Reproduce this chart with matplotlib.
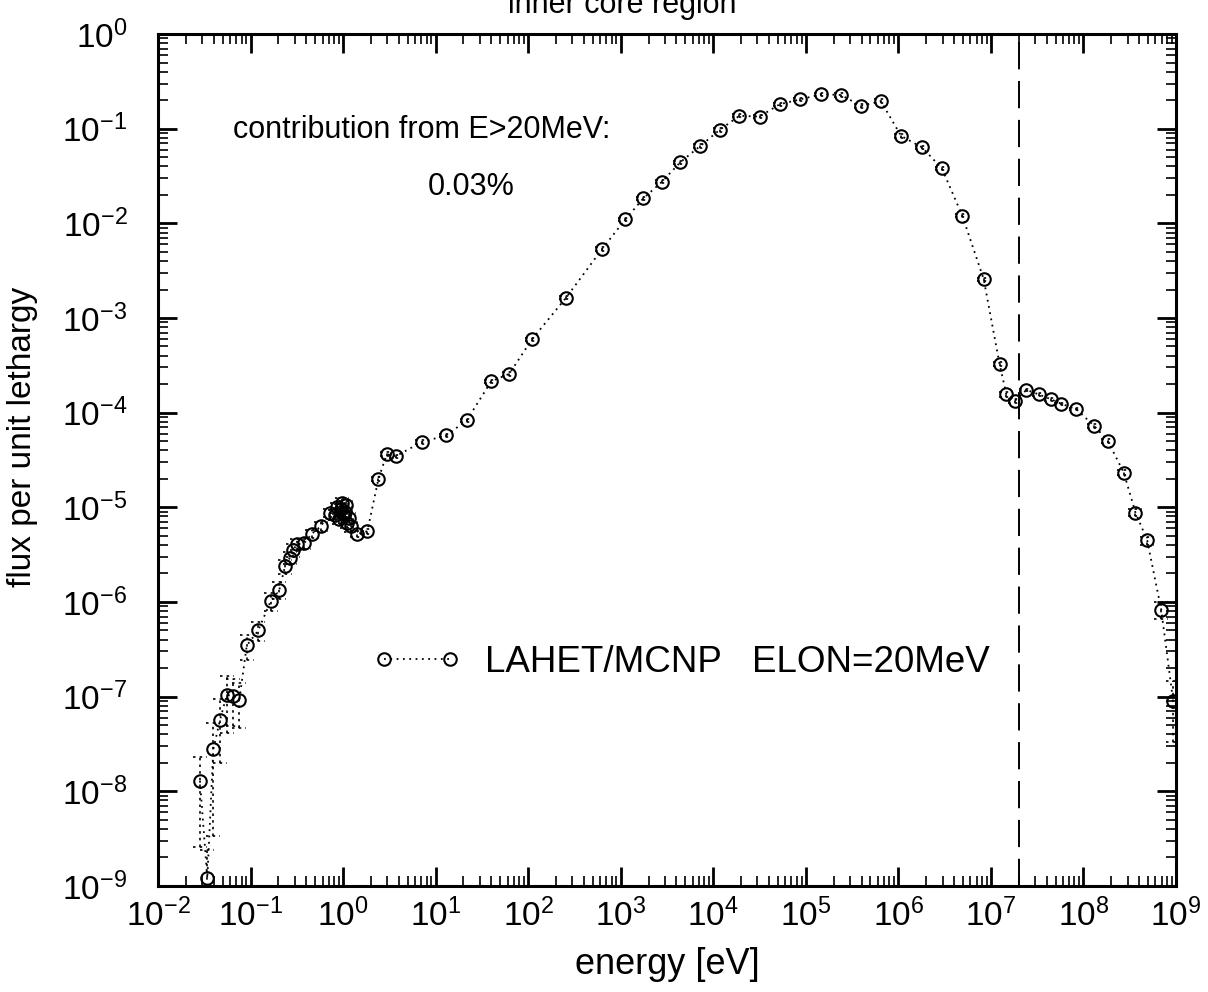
import numpy as np
import matplotlib
matplotlib.use("Agg")
from matplotlib import pyplot as plt
from matplotlib import ticker

plt.rcParams['font.family'] = ['Liberation Sans', 'DejaVu Sans']
plt.rcParams['mathtext.fontset'] = 'custom'
plt.rcParams['mathtext.rm'] = 'Liberation Sans'
plt.rcParams['mathtext.it'] = 'Liberation Sans'
plt.rcParams['mathtext.bf'] = 'Liberation Sans'

# energy [eV] and flux per unit lethargy
energy = [0.0284, 0.0341, 0.0396, 0.0468, 0.0553, 0.0652, 0.0757, 0.091, 0.121, 0.165,
          0.205, 0.236, 0.267, 0.290, 0.316, 0.378, 0.459, 0.574, 0.723,
          0.82, 0.87, 0.91, 0.95, 0.98, 1.01, 1.04, 1.08, 1.11, 1.15, 1.22,
          1.43, 1.83, 2.41, 2.96, 3.72, 7.1, 13.0, 21.7, 39.8, 62.4,
          110, 257, 631, 1120, 1760, 2790, 4400, 7230, 11700, 19200,
          31600, 52100, 87100, 1.46e5, 2.40e5, 3.95e5, 6.46e5, 1.07e6, 1.80e6, 2.95e6,
          4.90e6, 8.36e6, 1.24e7, 1.47e7, 1.81e7, 2.42e7, 3.29e7, 4.51e7, 5.78e7, 8.34e7,
          1.31e8, 1.83e8, 2.73e8, 3.65e8, 4.89e8, 6.92e8, 9.33e8]
flux = [1.29e-8, 1.2e-9, 2.78e-8, 5.68e-8, 1.04e-7, 1.02e-7, 9.3e-8, 3.47e-7, 5.0e-7, 1.02e-6,
        1.35e-6, 2.4e-6, 2.95e-6, 3.55e-6, 4.07e-6, 4.17e-6, 5.25e-6, 6.3e-6, 8.7e-6,
        8.3e-6, 1.0e-5, 7.6e-6, 9.6e-6, 1.12e-5, 8.5e-6, 9.0e-6, 1.05e-5, 6.8e-6, 7.8e-6, 6.3e-6,
        5.25e-6, 5.6e-6, 2.0e-5, 3.63e-5, 3.47e-5, 4.9e-5, 5.75e-5, 8.3e-5, 2.14e-4, 2.57e-4,
        5.96e-4, 1.64e-3, 5.37e-3, 1.10e-2, 1.84e-2, 2.75e-2, 4.42e-2, 6.56e-2, 9.7e-2, 0.137,
        0.134, 0.181, 0.204, 0.231, 0.227, 0.174, 0.196, 0.0838, 0.0635, 0.0381,
        0.0121, 2.57e-3, 3.27e-4, 1.56e-4, 1.33e-4, 1.74e-4, 1.56e-4, 1.38e-4, 1.24e-4, 1.09e-4,
        7.24e-5, 5.06e-5, 2.32e-5, 8.8e-6, 4.47e-6, 8.3e-7, 8.9e-8]
# relative statistical error of each point
rel_err = [0.8, 1.0, 0.88, 0.65, 0.6, 0.52, 0.5, 0.29, 0.22, 0.22,
           0.2, 0.17, 0.15, 0.15, 0.14, 0.12, 0.1, 0.1, 0.1,
           0.12, 0.12, 0.12, 0.12, 0.12, 0.12, 0.12, 0.12, 0.12, 0.12, 0.12,
           0.08, 0.06, 0.05, 0.05, 0.04, 0.04, 0.04, 0.04, 0.04, 0.04,
           0.04, 0.04, 0.04, 0.04, 0.04, 0.04, 0.04, 0.04, 0.04, 0.04,
           0.04, 0.04, 0.04, 0.04, 0.04, 0.04, 0.04, 0.04, 0.04, 0.04,
           0.04, 0.04, 0.05, 0.06, 0.06, 0.03, 0.03, 0.03, 0.03, 0.03,
           0.04, 0.05, 0.06, 0.08, 0.1, 0.2, 0.63]

elon = 2.0e7

E = np.array(energy)
F = np.array(flux)
S = np.array(rel_err)

fig = plt.figure(figsize=(12.08, 9.92), dpi=100)
ax = fig.add_axes([0.1308, 0.1069, 0.8427, 0.8588])
ax.set_xscale('log')
ax.set_yscale('log')
ax.set_xlim(1e-2, 1e9)
ax.set_ylim(1e-9, 1e0)

# error bars (dotted, with dotted caps)
lo = np.maximum(F * (1 - S), 1e-12)
hi = F * (1 + S)
ax.vlines(E, lo, hi, colors='k', linestyles=(0, (1.5, 2.5)), linewidth=1.2)
cw = 10 ** (7 / 92.5)
ax.hlines(hi, E / cw, E * cw, colors='k', linestyles=(0, (1.5, 2.5)), linewidth=1.2)
ax.hlines(lo, E / cw, E * cw, colors='k', linestyles=(0, (1.5, 2.5)), linewidth=1.2)

ax.plot(E, F, color='k', linestyle=(0, (1, 2.5)), linewidth=1.3, marker='o',
        markersize=9, markerfacecolor='none', markeredgewidth=1.5,
        label='LAHET/MCNP   ELON=20MeV')

ax.axvline(elon, color='k', linestyle=(0, (14, 6)), linewidth=1.4)

ax.legend(loc='center left', bbox_to_anchor=(0.211, 0.262), frameon=False,
          fontsize=26.5, handlelength=2.4, handletextpad=0.65, numpoints=2,
          borderpad=0, borderaxespad=0)

ax.text(0.0737, 0.887, 'contribution from E>20MeV:', transform=ax.transAxes,
        fontsize=22, va='center', ha='left')
ax.text(0.265, 0.820, '0.03%', transform=ax.transAxes,
        fontsize=22, va='center', ha='left')

ax.xaxis.set_major_locator(ticker.LogLocator(base=10, numticks=20))
ax.yaxis.set_major_locator(ticker.LogLocator(base=10, numticks=20))
ax.xaxis.set_minor_locator(ticker.LogLocator(base=10, subs=np.arange(2, 10), numticks=20))
ax.yaxis.set_minor_locator(ticker.LogLocator(base=10, subs=np.arange(2, 10), numticks=20))
ax.xaxis.set_minor_formatter(ticker.NullFormatter())
ax.yaxis.set_minor_formatter(ticker.NullFormatter())

ax.tick_params(which='both', direction='in', top=True, right=True)
ax.tick_params(which='major', length=14, width=2, labelsize=24)
ax.tick_params(which='minor', length=7, width=1.2)
ax.tick_params(axis='x', which='major', pad=9)
ax.tick_params(axis='y', which='major', pad=22)
for sp in ax.spines.values():
    sp.set_linewidth(2.2)

ax.set_xlabel('energy [eV]', fontsize=26, labelpad=10)
ax.set_ylabel('flux per unit lethargy', fontsize=24)
ax.yaxis.set_label_coords(-0.118, 0.527)

fig.text(0.515, 1 - 13 / 992, 'inner core region', fontsize=22, ha='center', va='baseline')

fig.savefig('out.png', dpi=100)
